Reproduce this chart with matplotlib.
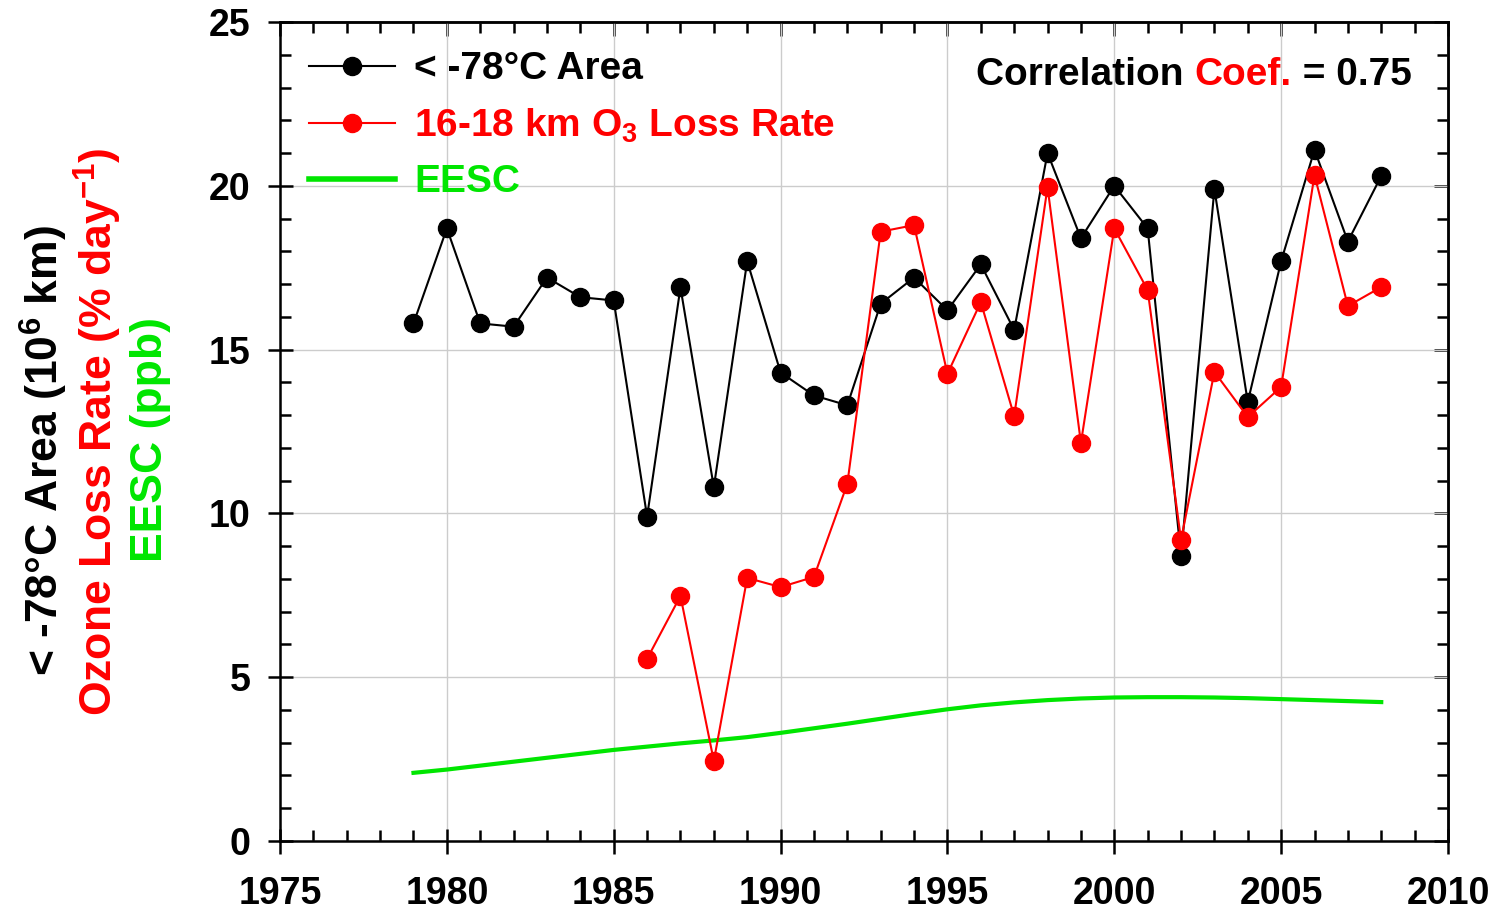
import matplotlib
matplotlib.use("Agg")
import matplotlib.pyplot as plt
from matplotlib.lines import Line2D
from matplotlib.ticker import MultipleLocator

plt.rcParams["font.family"] = ["Liberation Sans", "DejaVu Sans"]
plt.rcParams["font.weight"] = "bold"
plt.rcParams["mathtext.fontset"] = "custom"
plt.rcParams["mathtext.rm"] = "Liberation Sans:bold"
plt.rcParams["mathtext.bf"] = "Liberation Sans:bold"
plt.rcParams["mathtext.it"] = "Liberation Sans:bold"

# < -78C area (10^6 km^2), 1979-2008
area_years = list(range(1979, 2009))
area = [15.8, 18.7, 15.8, 15.7, 17.2, 16.6, 16.5, 9.9, 16.9, 10.8,
        17.7, 14.3, 13.6, 13.3, 16.4, 17.2, 16.2, 17.6, 15.6, 21.0,
        18.4, 20.0, 18.7, 8.7, 19.9, 13.4, 17.7, 21.1, 18.3, 20.3]

# 16-18 km ozone loss rate (% per day), 1986-2008
loss_years = list(range(1986, 2009))
loss_rate = [5.56, 7.48, 2.44, 8.03, 7.75, 8.06, 10.9, 18.6, 18.8, 14.26,
             16.45, 12.97, 19.96, 12.15, 18.7, 16.82, 9.19, 14.32, 12.94,
             13.86, 20.33, 16.33, 16.91]

# EESC (ppb)
eesc_years = list(range(1979, 2009))
eesc = [2.08, 2.18, 2.30, 2.42, 2.54, 2.66, 2.78, 2.88, 2.98, 3.07,
        3.17, 3.30, 3.44, 3.58, 3.73, 3.88, 4.02, 4.14, 4.23, 4.30,
        4.35, 4.38, 4.39, 4.39, 4.38, 4.36, 4.33, 4.30, 4.27, 4.24]

green = "#00e600"

fig = plt.figure(figsize=(15.03, 9.14), dpi=100)
ax = fig.add_axes([0.1863, 0.0799, 0.9634 - 0.1863, 0.9759 - 0.0799])

ax.plot(eesc_years, eesc, color=green, lw=3, zorder=2)
ax.plot(area_years, area, color="black", lw=1.5, marker="o", ms=13, zorder=3)
ax.plot(loss_years, loss_rate, color="red", lw=1.5, marker="o", ms=13, zorder=4)

ax.set_xlim(1975, 2010)
ax.set_ylim(0, 25)
ax.xaxis.set_major_locator(MultipleLocator(5))
ax.xaxis.set_minor_locator(MultipleLocator(1))
ax.yaxis.set_major_locator(MultipleLocator(5))
ax.yaxis.set_minor_locator(MultipleLocator(1))
ax.grid(which="major", color="#cccccc", lw=1.0, zorder=0)
ax.set_axisbelow(True)

for spine in ax.spines.values():
    spine.set_linewidth(1.8)

ax.tick_params(which="major", direction="inout", length=18, width=1.8,
               labelsize=27, top=False, right=False)
ax.tick_params(which="minor", direction="in", length=8, width=1.8,
               top=False, right=False)
ax.tick_params(axis="x", which="major", pad=16)
ax.tick_params(axis="y", which="major", pad=12)
for lab in ax.get_xticklabels() + ax.get_yticklabels():
    lab.set_fontweight("bold")

# inward ticks on top and right, no labels
top = ax.secondary_xaxis("top")
right = ax.secondary_yaxis("right")
top.tick_params(which="both", direction="in", width=1.8, labeltop=False, labelbottom=False)
right.tick_params(which="both", direction="in", width=1.8, labelright=False, labelleft=False)
for sec in (top, right):
    sec.tick_params(which="major", length=10)
    sec.tick_params(which="minor", length=8)
    sec.spines[:].set_linewidth(1.8)
top.xaxis.set_major_locator(MultipleLocator(5))
top.xaxis.set_minor_locator(MultipleLocator(1))
right.yaxis.set_major_locator(MultipleLocator(5))
right.yaxis.set_minor_locator(MultipleLocator(1))

# legend
handles = [
    Line2D([], [], color="black", lw=1.5, marker="o", ms=13),
    Line2D([], [], color="red", lw=1.5, marker="o", ms=13),
    Line2D([], [], color=green, lw=4),
]
labels = ["< -78°C Area", "16-18 km O$_3$ Loss Rate", "EESC"]
ax.legend(handles, labels, loc="upper left", frameon=False, fontsize=28,
          labelcolor=["black", "red", green], handlelength=2.2,
          handletextpad=0.5, labelspacing=0.5, borderaxespad=0.35,
          bbox_to_anchor=(0.0, 1.0))

# correlation note with multicolour text
t1 = ax.text(0.596, 0.923, "Correlation ", transform=ax.transAxes,
             fontsize=28, fontweight="bold", color="black", va="baseline")
t2 = ax.annotate("Coef.", xy=(1, 0), xycoords=t1, fontsize=28,
                 fontweight="bold", color="red", va="bottom")
ax.annotate(" = 0.75", xy=(1, 0), xycoords=t2, fontsize=28,
            fontweight="bold", color="black", va="bottom")

# stacked y labels
fig.text(0.029, 0.507, "< -78°C Area (10$^6$ km)", rotation=90,
         ha="center", va="center", fontsize=32, color="black")
fig.text(0.065, 0.528, "Ozone Loss Rate (% day$^{-1}$)", rotation=90,
         ha="center", va="center", fontsize=32, color="red")
fig.text(0.100, 0.519, "EESC (ppb)", rotation=90,
         ha="center", va="center", fontsize=32, color=green)

fig.savefig("out.png", dpi=100)
